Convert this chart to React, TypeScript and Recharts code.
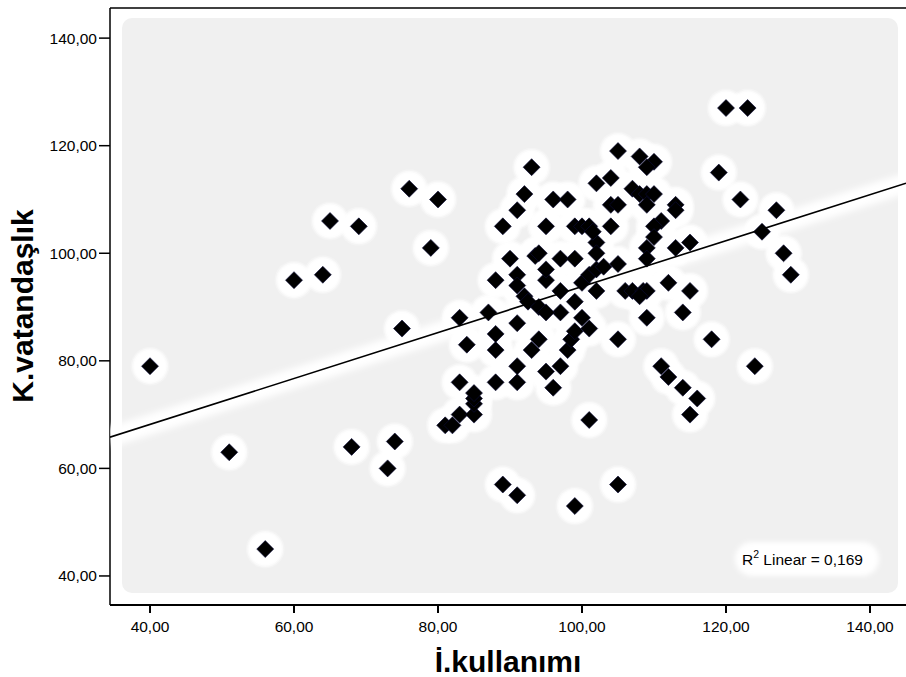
import React from 'react';
import { ScatterChart, Scatter, XAxis, YAxis, ReferenceLine } from 'recharts';

// İ.kullanımı (x) values, paired by index with K.vatandaşlık (y)
const IK_KULLANIMI = [
  40, 51, 56, 60, 64, 65, 69, 68, 73, 74,
  75, 76, 79, 80, 81, 82, 83, 85, 85, 85,
  85, 83, 88, 91, 96, 91, 95, 97, 84, 88,
  88, 93, 94, 98, 98.5, 99, 83, 87, 91, 97,
  100, 101, 105, 101, 109, 114, 118, 111, 112, 114,
  116, 115, 124, 89, 91, 99, 105, 88, 91, 91,
  95, 95, 92, 92.5, 94, 95, 97, 99, 100, 102,
  106, 107, 108.5, 109, 108, 112, 115, 90, 93.5, 94,
  97, 99, 101, 102, 103, 105, 102, 102, 109, 109,
  113, 115, 89, 95, 99, 100, 101, 101.5, 104, 111,
  110, 110, 91, 92, 96, 98, 93, 102, 104, 104,
  105, 107, 108, 109, 110, 109, 113, 113, 105, 108,
  110, 109, 119, 122, 120, 123, 127, 125, 128, 129,
];
const K_VATANDASLIK = [
  79, 63, 45, 95, 96, 106, 105, 64, 60, 65,
  86, 112, 101, 110, 68, 68, 70, 70, 72, 73,
  74, 76, 76, 76, 75, 79, 78, 79, 83, 82,
  85, 82, 84, 82, 84, 85.5, 88, 89, 87, 89,
  88, 86, 84, 69, 88, 89, 84, 79, 77, 75,
  73, 70, 79, 57, 55, 53, 57, 95, 96, 94,
  95, 97, 92, 91, 90, 89, 93, 91, 94.5, 93,
  93, 93, 93, 93, 92, 94.5, 93, 99, 99.5, 100,
  99, 99, 96, 97, 97.5, 98, 102, 100, 101, 99,
  101, 102, 105, 105, 105, 105, 105, 104, 105, 106,
  105, 103, 108, 111, 110, 110, 116, 113, 114, 109,
  109, 112, 111, 111, 111, 109, 109, 108, 119, 118,
  117, 116, 115, 110, 127, 127, 108, 104, 100, 96,
];

const X_TICKS = [40, 60, 80, 100, 120, 140];
const Y_TICKS = [40, 60, 80, 100, 120, 140];
const X_DOMAIN = [34.44, 145];
const Y_DOMAIN = [34.6, 145.6];

// fit line
const REG_INTERCEPT = 51.1;
const REG_SLOPE = 0.427;
const R2_LABEL = '0,169';

const X_TITLE = 'İ.kullanımı';
const Y_TITLE = 'K.vatandaşlık';

const points = IK_KULLANIMI.map((x, i) => ({ x, y: K_VATANDASLIK[i] }));
const regLine = X_DOMAIN.map((x) => ({ x, y: REG_INTERCEPT + REG_SLOPE * x }));

const fmt = (v: number) => v.toFixed(2).replace('.', ',');
const FONT = "'Liberation Sans', Arial, sans-serif";

const DiamondShape = (p: any) => {
  const { cx, cy } = p;
  const s = 8.5;
  return (
    <polygon
      points={`${cx},${cy - s} ${cx + s},${cy} ${cx},${cy + s} ${cx - s},${cy}`}
      fill="#000000"
      stroke="#0b0b3a"
      strokeWidth={0.6}
    />
  );
};

const BlankShape = () => <g />;

// soft white glow under every marker (drawn before the markers of the same series)
const HALO_RINGS = [
  { r: 19.5, o: 0.25 },
  { r: 18, o: 0.5 },
  { r: 16.5, o: 0.8 },
  { r: 15, o: 1 },
];
const haloLayer = (props: any) => {
  const pts = props.points || [];
  return (
    <g>
      {HALO_RINGS.map((ring, k) => (
        <g key={k}>
          {pts.map((q: any, i: number) => (
            <circle key={i} cx={q.x} cy={q.y} r={ring.r} fill="#ffffff" fillOpacity={ring.o} />
          ))}
        </g>
      ))}
    </g>
  );
};

const makeLine = (stroke: string, width: number, filter?: string) => (props: any) => {
  const pts = props.points || [];
  if (pts.length < 2) return <g />;
  const d = pts.map((q: any, i: number) => `${i === 0 ? 'M' : 'L'}${q.x},${q.y}`).join(' ');
  return <path d={d} stroke={stroke} strokeWidth={width} fill="none" filter={filter} />;
};

const xTitle = () => (
  <text x={508} y={672} textAnchor="middle" fontFamily={FONT} fontSize={30} fontWeight="bold" fill="#000">
    {X_TITLE}
  </text>
);

const yTitle = () => (
  <text
    x={33}
    y={306}
    transform="rotate(-90, 33, 306)"
    textAnchor="middle"
    fontFamily={FONT}
    fontSize={30}
    fontWeight="bold"
    fill="#000"
  >
    {Y_TITLE}
  </text>
);

export default function App() {
  return (
    <div style={{ position: 'absolute', left: 0, top: 0, width: 906, height: 677, fontFamily: FONT, background: '#fff' }}>
      <svg width={0} height={0} style={{ position: 'absolute' }}>
        <defs>
          <filter id="ptHalo" filterUnits="userSpaceOnUse" x={0} y={0} width={906} height={677}>
            <feGaussianBlur stdDeviation={2.5} />
          </filter>
          <filter id="lineHalo" filterUnits="userSpaceOnUse" x={0} y={0} width={906} height={677}>
            <feGaussianBlur stdDeviation={3} />
          </filter>
        </defs>
      </svg>
      <div
        style={{
          position: 'absolute',
          left: 122,
          top: 18,
          width: 776,
          height: 575,
          background: '#f0f0f0',
          borderRadius: 10,
        }}
      />
      <ScatterChart width={906} height={677} margin={{ top: 8, right: 0, bottom: 0, left: 0 }}>
        <XAxis
          type="number"
          dataKey="x"
          domain={X_DOMAIN}
          ticks={X_TICKS}
          allowDataOverflow
          height={72}
          tickFormatter={fmt}
          tickSize={8}
          tickMargin={8}
          axisLine={{ stroke: '#000', strokeWidth: 2.2 }}
          tickLine={{ stroke: '#000', strokeWidth: 2 }}
          tick={{ fill: '#000', fontSize: 15.5, fontFamily: FONT }}
          label={xTitle}
        />
        <YAxis
          type="number"
          dataKey="y"
          domain={Y_DOMAIN}
          ticks={Y_TICKS}
          allowDataOverflow
          width={110}
          tickFormatter={fmt}
          tickSize={11}
          tickMargin={2}
          axisLine={{ stroke: '#000', strokeWidth: 1.5 }}
          tickLine={{ stroke: '#000', strokeWidth: 1.5 }}
          tick={{ fill: '#000', fontSize: 15.5, fontFamily: FONT }}
          label={yTitle}
        />
        <ReferenceLine y={Y_DOMAIN[1]} stroke="#000" strokeWidth={1.5} />
        <Scatter
          data={regLine}
          shape={BlankShape}
          line={makeLine('#ffffff', 20, 'url(#lineHalo)')}
          isAnimationActive={false}
          legendType="none"
        />
        <Scatter
          data={points}
          shape={DiamondShape}
          line={haloLayer}
          isAnimationActive={false}
          legendType="none"
        />
        <Scatter
          data={regLine}
          shape={BlankShape}
          line={makeLine('#000000', 1.6)}
          isAnimationActive={false}
          legendType="none"
        />
      </ScatterChart>
      <svg
        width={906}
        height={677}
        style={{ position: 'absolute', left: 0, top: 0, pointerEvents: 'none' }}
      >
        <rect x={735} y={542} width={144} height={34} rx={17} fill="#ffffff" filter="url(#ptHalo)" />
        <text x={742} y={565} fontFamily={FONT} fontSize={15.5} fill="#000">
          R
          <tspan fontSize={10.5} dy={-7}>2</tspan>
          <tspan dy={7}>{` Linear = ${R2_LABEL}`}</tspan>
        </text>
      </svg>
    </div>
  );
}
